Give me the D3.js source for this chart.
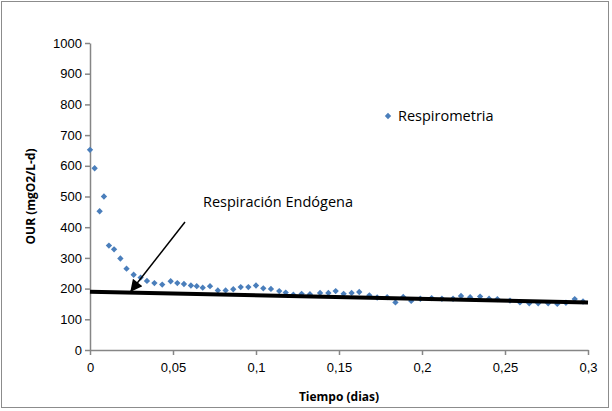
<!DOCTYPE html>
<html><head><meta charset="utf-8">
<script src="https://cdn.jsdelivr.net/npm/d3@7"></script>
<style>body{margin:0;background:#fff}svg{font-family:"Open Sans","Liberation Sans",sans-serif}</style>
</head><body><div id="chart"></div>
<script>
const timeDays = [0,0.0028,0.0058,0.0084,0.0114,0.0145,0.0183,0.022,0.0263,0.0305,0.0343,0.0388,0.0435,0.0486,0.0526,0.0566,0.0608,0.0643,0.0679,0.0723,0.077,0.0817,0.0863,0.0908,0.0954,0.1,0.1044,0.109,0.114,0.1179,0.1225,0.1275,0.1325,0.1386,0.1436,0.148,0.1528,0.1576,0.1622,0.1683,0.173,0.179,0.184,0.1887,0.1935,0.199,0.2058,0.212,0.2187,0.2235,0.229,0.235,0.2404,0.2454,0.253,0.259,0.2646,0.27,0.276,0.2815,0.2867,0.292,0.297];
const ourValues = [652,592,452,500,340,328,298,265,245,236,225,218,213,224,218,215,210,208,203,208,194,194,198,205,205,210,201,199,192,187,180,183,182,186,186,192,183,186,189,178,171,172,155,173,160,167,169,167,167,176,172,174,167,166,161,155,152,152,152,150,154,166,158];
const endoLine = [[0, 190], [0.3, 155]];
const xTicks = [0,0.05,0.1,0.15,0.2,0.25,0.3];
const yTicks = [0,100,200,300,400,500,600,700,800,900,1000];

const W = 612, H = 411;
const M = { TOP: 43, LEFT: 90, RIGHT: 24, BOTTOM: 61 };
const svg = d3.select('#chart').append('svg').attr('width', W).attr('height', H);
svg.append('rect').attr('x', 1.5).attr('y', 1.5).attr('width', W - 5).attr('height', H - 5)
  .attr('fill', 'none').attr('stroke', '#8c8c8c');

const x = d3.scaleLinear().domain([0, 0.3]).range([M.LEFT, W - M.RIGHT]);
const y = d3.scaleLinear().domain([0, 1000]).range([H - M.BOTTOM, M.TOP]);
const fmt = d => String(d).replace('.', ',');

const xAxis = svg.append('g').attr('transform', `translate(0,${y(0)})`)
  .call(d3.axisBottom(x).tickValues(xTicks).tickFormat(fmt).tickSize(5).tickSizeOuter(0));
const yAxis = svg.append('g').attr('transform', `translate(${x(0)},0)`)
  .call(d3.axisLeft(y).tickValues(yTicks).tickFormat(fmt).tickSize(5).tickSizeOuter(0));
[xAxis, yAxis].forEach(a => {
  a.selectAll('path,line').attr('stroke', '#868686').attr('stroke-width', 1.5);
  a.selectAll('text').attr('font-size', 13).attr('fill', '#000');
});
xAxis.selectAll('text').attr('dy', '1.1em');

svg.append('text').attr('x', x(0.15)).attr('y', 401).attr('text-anchor', 'middle')
  .attr('font-size', 12).attr('font-weight', 'bold').text('Tiempo (dias)');
svg.append('text').attr('transform', `translate(35,${y(500)}) rotate(-90)`).attr('text-anchor', 'middle')
  .attr('font-size', 12).attr('font-weight', 'bold').text('OUR (mgO2/L-d)');

const diamond = d3.symbol().type(d3.symbolSquare).size(20);
svg.append('g').selectAll('path').data(timeDays).join('path')
  .attr('d', diamond)
  .attr('transform', (d, i) => `translate(${x(d)},${y(ourValues[i])}) rotate(45)`)
  .attr('fill', '#4a7ebb');

svg.append('path').datum(endoLine)
  .attr('d', d3.line().x(d => x(d[0])).y(d => y(d[1])))
  .attr('stroke', '#000').attr('stroke-width', 4).attr('fill', 'none');

svg.append('defs').append('marker').attr('id', 'arr').attr('viewBox', '0 0 10 10')
  .attr('refX', 9).attr('refY', 5).attr('markerWidth', 16).attr('markerHeight', 12)
  .attr('orient', 'auto').attr('markerUnits', 'userSpaceOnUse')
  .append('path').attr('d', 'M0,0L10,5L0,10z').attr('fill', '#000');
svg.append('line').attr('x1', 185).attr('y1', 222).attr('x2', 131).attr('y2', 291)
  .attr('stroke', '#000').attr('stroke-width', 1.5).attr('marker-end', 'url(#arr)');
svg.append('text').attr('x', 203).attr('y', 207).attr('font-size', 14.5).text('Respiración Endógena');

svg.append('path').attr('d', diamond).attr('transform', 'translate(388,116) rotate(45)').attr('fill', '#4a7ebb');
svg.append('text').attr('x', 398).attr('y', 121).attr('font-size', 14.5).text('Respirometria');
</script></body></html>
